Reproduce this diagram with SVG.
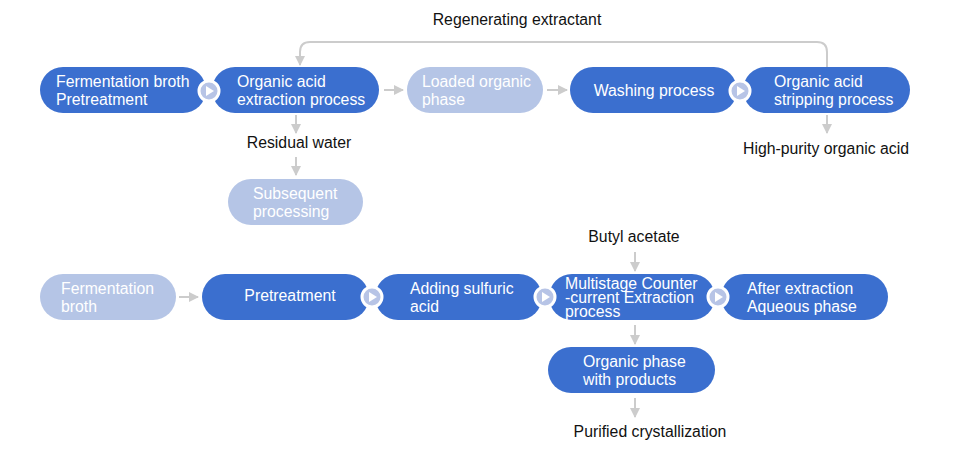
<svg xmlns="http://www.w3.org/2000/svg" width="976" height="458" viewBox="0 0 976 458">
<style>
.dark{fill:#3b6fcf}
.light{fill:#b5c5e6}
.t{font-family:"Liberation Sans",Arial,sans-serif;font-size:15.8px;fill:#ffffff}
.b{font-family:"Liberation Sans",Arial,sans-serif;font-size:15.8px;fill:#111111}
.ln{stroke:#cccccc;stroke-width:2;fill:none}
.ring{fill:#b7c4e6;stroke:#ffffff;stroke-width:3}
.tri{fill:#ffffff}
</style>
<defs>
<marker id="ah" markerWidth="10" markerHeight="10" viewBox="0 0 10 10" refX="9" refY="5" orient="auto" markerUnits="userSpaceOnUse">
<path d="M0,0 L10,5 L0,10 z" fill="#cccccc"/>
</marker>
<g id="play">
<circle r="10" class="ring"/>
<path d="M-3,-5 L5,0 L-3,5 z" class="tri"/>
</g>
</defs>
<rect width="976" height="458" fill="#ffffff"/>

<g id="connectors">
<path class="ln" d="M827,67 V52 Q827,42 817,42 H310 Q300,42 300,52 V65" marker-end="url(#ah)"/>
<line class="ln" x1="384" y1="90" x2="403" y2="90" marker-end="url(#ah)"/>
<line class="ln" x1="547" y1="90" x2="567" y2="90" marker-end="url(#ah)"/>
<line class="ln" x1="296" y1="115" x2="296" y2="133" marker-end="url(#ah)"/>
<line class="ln" x1="296" y1="157" x2="296" y2="175" marker-end="url(#ah)"/>
<line class="ln" x1="827" y1="115" x2="827" y2="133" marker-end="url(#ah)"/>
<line class="ln" x1="179" y1="297" x2="198" y2="297" marker-end="url(#ah)"/>
<line class="ln" x1="635" y1="252" x2="635" y2="271" marker-end="url(#ah)"/>
<line class="ln" x1="635" y1="325" x2="635" y2="344" marker-end="url(#ah)"/>
<line class="ln" x1="635" y1="398" x2="635" y2="417" marker-end="url(#ah)"/>
</g>

<text class="b" x="517" y="25" text-anchor="middle">Regenerating extractant</text>
<text class="b" x="299" y="148" text-anchor="middle">Residual water</text>
<text class="b" x="826" y="154" text-anchor="middle">High-purity organic acid</text>
<text class="b" x="634" y="242" text-anchor="middle">Butyl acetate</text>
<text class="b" x="650" y="437" text-anchor="middle">Purified crystallization</text>

<g id="n1">
<rect class="dark" x="40" y="67" width="166" height="46" rx="23"/>
<text class="t" x="56" y="87">Fermentation broth</text>
<text class="t" x="56" y="105">Pretreatment</text>
</g>
<g id="n2">
<rect class="dark" x="212" y="67" width="167" height="46" rx="23"/>
<text class="t" x="237" y="87">Organic acid</text>
<text class="t" x="237" y="105">extraction process</text>
</g>
<g id="n3">
<rect class="light" x="407" y="67" width="136" height="46" rx="23"/>
<text class="t" x="422" y="87">Loaded organic</text>
<text class="t" x="422" y="105">phase</text>
</g>
<g id="n4">
<rect class="dark" x="570" y="67" width="167" height="46" rx="23"/>
<text class="t" x="654" y="96" text-anchor="middle">Washing process</text>
</g>
<g id="n5">
<rect class="dark" x="743" y="67" width="167" height="46" rx="23"/>
<text class="t" x="774" y="87">Organic acid</text>
<text class="t" x="774" y="105">stripping process</text>
</g>
<g id="n6">
<rect class="light" x="228" y="179" width="135" height="46" rx="23"/>
<text class="t" x="253" y="199">Subsequent</text>
<text class="t" x="253" y="217">processing</text>
</g>

<g id="m1">
<rect class="light" x="40" y="274" width="136" height="46" rx="23"/>
<text class="t" x="61" y="294">Fermentation</text>
<text class="t" x="61" y="312">broth</text>
</g>
<g id="m2">
<rect class="dark" x="202" y="274" width="167" height="46" rx="23"/>
<text class="t" x="290" y="301" text-anchor="middle">Pretreatment</text>
</g>
<g id="m3">
<rect class="dark" x="375" y="274" width="167" height="46" rx="23"/>
<text class="t" x="410" y="294">Adding sulfuric</text>
<text class="t" x="410" y="312">acid</text>
</g>
<g id="m4">
<rect class="dark" x="549" y="274" width="166" height="46" rx="23"/>
<text class="t" x="565" y="289">Multistage Counter</text>
<text class="t" x="565" y="303">-current Extraction</text>
<text class="t" x="565" y="317"> process</text>
</g>
<g id="m5">
<rect class="dark" x="721" y="274" width="167" height="46" rx="23"/>
<text class="t" x="747" y="294">After extraction</text>
<text class="t" x="747" y="312">Aqueous phase</text>
</g>
<g id="m6">
<rect class="dark" x="548" y="347" width="167" height="46" rx="23"/>
<text class="t" x="583" y="367">Organic phase</text>
<text class="t" x="583" y="385">with products</text>
</g>

<g id="links">
<use href="#play" x="209" y="91"/>
<use href="#play" x="740" y="91"/>
<use href="#play" x="372" y="297"/>
<use href="#play" x="545" y="297"/>
<use href="#play" x="718" y="297"/>
</g>
</svg>
